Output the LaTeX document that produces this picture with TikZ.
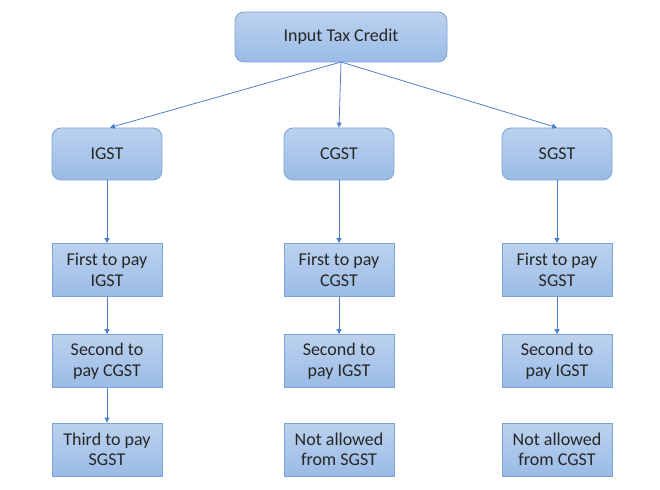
\documentclass[tikz,border=0pt]{standalone}
\usepackage{fontspec}
\setmainfont{Carlito}
\usetikzlibrary{arrows.meta}
\definecolor{boxtop}{HTML}{BCD2EE}
\definecolor{boxbot}{HTML}{9ABBE6}
\definecolor{boxline}{HTML}{7EA3D6}
\definecolor{arr}{HTML}{4F7FCB}
\begin{document}
\begin{tikzpicture}[x=1pt,y=-1pt,
  base/.style={draw=boxline, line width=0.8pt, top color=boxtop, bottom color=boxbot,
    text=black!85, font=\fontsize{18}{20.5}\selectfont, align=center, inner sep=2pt},
  head/.style={base, rounded corners=9pt, minimum width=110pt, minimum height=52pt},
  stepbox/.style={base, minimum width=110pt, minimum height=53pt},
  conn/.style={draw=arr, line width=0.8pt, -{Triangle[length=5pt,width=5pt]}}]
\useasboundingbox (0,0) rectangle (660,489);
\node[head, minimum width=212pt, minimum height=50pt] (itc) at (341,37) {Input Tax Credit};
\node[head] (igst) at (107,154) {IGST};
\node[head] (cgst) at (339,154) {CGST};
\node[head] (sgst) at (557,154) {SGST};
\node[stepbox] (i1) at (107,270) {First to pay\\IGST};
\node[stepbox] (i2) at (107,361) {Second to\\pay CGST};
\node[stepbox] (i3) at (107,449.5) {Third to pay\\SGST};
\node[stepbox] (c1) at (339,270) {First to pay\\CGST};
\node[stepbox] (c2) at (339,361) {Second to\\pay IGST};
\node[stepbox] (c3) at (339,449.5) {Not allowed\\from SGST};
\node[stepbox] (s1) at (557,270) {First to pay\\SGST};
\node[stepbox] (s2) at (557,361) {Second to\\pay IGST};
\node[stepbox] (s3) at (557,449.5) {Not allowed\\from CGST};
\coordinate (top) at (341,62);
\draw[conn] (top) -- ([xshift=3pt]igst.north);
\draw[conn] (top) -- (cgst.north);
\draw[conn] (top) -- (sgst.north);
\draw[conn] (igst) -- (i1);
\draw[conn] (i1) -- (i2);
\draw[conn] (i2) -- (i3);
\draw[conn] (cgst) -- (c1);
\draw[conn] (c1) -- (c2);
\draw[conn] (sgst) -- (s1);
\draw[conn] (s1) -- (s2);
\end{tikzpicture}
\end{document}
